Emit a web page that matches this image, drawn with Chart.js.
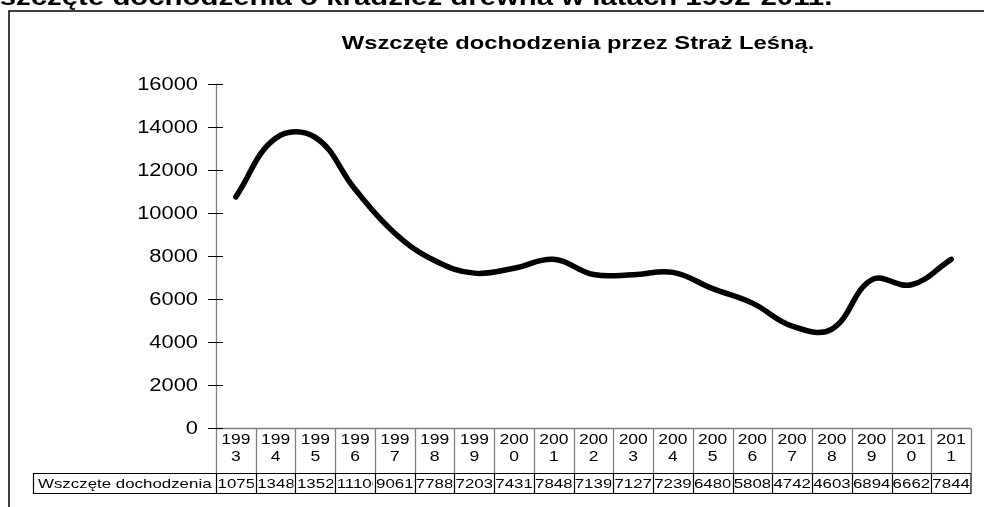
<!DOCTYPE html>
<html>
<head>
<meta charset="utf-8">
<script src="https://cdn.jsdelivr.net/npm/chart.js@4/dist/chart.umd.min.js"></script>
<style>
html,body{margin:0;padding:0;background:#fff;}
#wrap{width:984px;height:507px;position:relative;}
</style>
</head>
<body>
<div id="wrap"><canvas id="c" width="984" height="507"></canvas></div>
<script>
// ---- data ----
const years = ['1993','1994','1995','1996','1997','1998','1999','2000','2001','2002','2003','2004','2005','2006','2007','2008','2009','2010','2011'];
const investigations = [10750, 13480, 13520, 11100, 9061, 7788, 7203, 7431, 7848, 7139, 7127, 7239, 6480, 5808, 4742, 4603, 6894, 6662, 7844];
const yTicks = [0, 2000, 4000, 6000, 8000, 10000, 12000, 14000, 16000];
const seriesName = 'Wszczęte dochodzenia';
const chartTitle = 'Wszczęte dochodzenia przez Straż Leśną.';
const pageHeading = 'Wszczęte dochodzenia o kradzież drewna w latach 1992-2011.';

const FONT = '"Liberation Sans", Arial, Helvetica, sans-serif';
const SX = 1.25; // horizontal stretch of the reference's text

function stext(ctx, txt, x, y, align, font, baseline) {
  ctx.save();
  ctx.font = font;
  ctx.textBaseline = baseline || 'middle';
  ctx.textAlign = 'left';
  const w = ctx.measureText(txt).width * SX;
  let x0 = x;
  if (align === 'center') x0 = x - w / 2;
  else if (align === 'right') x0 = x - w;
  ctx.translate(x0, y);
  ctx.scale(SX, 1);
  ctx.fillStyle = '#000';
  ctx.fillText(txt, 0, 0);
  ctx.restore();
  return w;
}

const decor = {
  id: 'decor',
  beforeDraw(chart) {
    const ctx = chart.ctx;
    ctx.save();
    ctx.fillStyle = '#fff';
    ctx.fillRect(0, 0, chart.width, chart.height);
    ctx.restore();
  },
  beforeDatasetsDraw(chart) {
    const ctx = chart.ctx;
    const a = chart.chartArea;
    const y = chart.scales.y;
    const x = chart.scales.x;
    const n = years.length;
    const cw = (a.right - a.left) / n;
    const rowTop = 473, rowBot = 493;

    // outer frame
    ctx.save();
    ctx.strokeStyle = '#000';
    ctx.lineWidth = 1.5;
    ctx.beginPath();
    ctx.moveTo(9, 507);
    ctx.lineTo(9, 11);
    ctx.lineTo(984, 11);
    ctx.stroke();
    ctx.restore();

    // cut-off page heading
    stext(ctx, pageHeading, -28, 5, 'left', 'bold 23.5px ' + FONT, 'alphabetic');

    // chart title
    stext(ctx, chartTitle, 578, 44, 'center', 'bold 19px ' + FONT);

    // axes (gray)
    ctx.save();
    ctx.strokeStyle = '#7f7f7f';
    ctx.lineWidth = 1.3;
    const ax = Math.round(a.left) + 0.5;
    ctx.beginPath();
    ctx.moveTo(ax, y.getPixelForValue(16000));
    ctx.lineTo(ax, rowTop);
    ctx.stroke();
    const bx = Math.round(a.bottom) + 0.5;
    ctx.beginPath();
    ctx.moveTo(a.left, bx);
    ctx.lineTo(a.right, bx);
    for (let i = 1; i <= n; i++) {
      const lx = Math.round(a.left + i * cw) + 0.5;
      ctx.moveTo(lx, bx);
      ctx.lineTo(lx, rowTop);
    }
    ctx.stroke();
    ctx.restore();

    // y ticks and labels
    ctx.save();
    ctx.strokeStyle = '#000';
    ctx.lineWidth = 1;
    yTicks.forEach(v => {
      const py = Math.round(y.getPixelForValue(v)) + 0.5;
      ctx.beginPath();
      ctx.moveTo(a.left - 8, py);
      ctx.lineTo(a.left + 7, py);
      ctx.stroke();
      stext(ctx, String(v), 198, py + 1, 'right', '17.5px ' + FONT);
    });
    ctx.restore();

    // year labels (wrapped as in the reference)
    years.forEach((yr, i) => {
      const cx = x.getPixelForValue(i);
      stext(ctx, yr.slice(0, 3), cx, 440, 'center', '14px ' + FONT);
      stext(ctx, yr.slice(3), cx, 457, 'center', '14px ' + FONT);
    });

    // data row
    ctx.save();
    ctx.strokeStyle = '#000';
    ctx.lineWidth = 1.2;
    ctx.beginPath();
    ctx.rect(33.5, rowTop + 0.5, a.right - 33.5, rowBot - rowTop);
    for (let i = 0; i < n; i++) {
      const lx = Math.round(a.left + i * cw) + 0.5;
      ctx.moveTo(lx, rowTop);
      ctx.lineTo(lx, rowBot);
    }
    ctx.stroke();
    ctx.restore();

    stext(ctx, seriesName, 38, 484, 'left', '13.5px ' + FONT);

    investigations.forEach((v, i) => {
      const left = a.left + i * cw;
      const txt = String(v);
      ctx.save();
      ctx.font = '13.5px ' + FONT;
      const w = ctx.measureText(txt).width * SX;
      ctx.beginPath();
      ctx.rect(left + 1, rowTop + 1, cw - 3, rowBot - rowTop - 1);
      ctx.clip();
      if (w > cw - 2) stext(ctx, txt, left + 1.5, 484, 'left', '13.5px ' + FONT);
      else stext(ctx, txt, left + cw / 2, 484, 'center', '13.5px ' + FONT);
      ctx.restore();
    });
  }
};

new Chart(document.getElementById('c'), {
  type: 'line',
  data: {
    labels: years,
    datasets: [{
      label: seriesName,
      data: investigations,
      borderColor: '#000',
      borderWidth: 5.5,
      tension: 0.4,
      pointRadius: 0,
      borderCapStyle: 'round',
      borderJoinStyle: 'round',
      fill: false
    }]
  },
  options: {
    responsive: false,
    devicePixelRatio: 1,
    animation: false,
    layout: { padding: { left: 216, right: 13, top: 84, bottom: 79 } },
    plugins: { legend: { display: false }, title: { display: false }, tooltip: { enabled: false } },
    scales: {
      x: { type: 'category', offset: true, display: false },
      y: { min: 0, max: 16000, display: false }
    }
  },
  plugins: [decor]
});
</script>
</body>
</html>
